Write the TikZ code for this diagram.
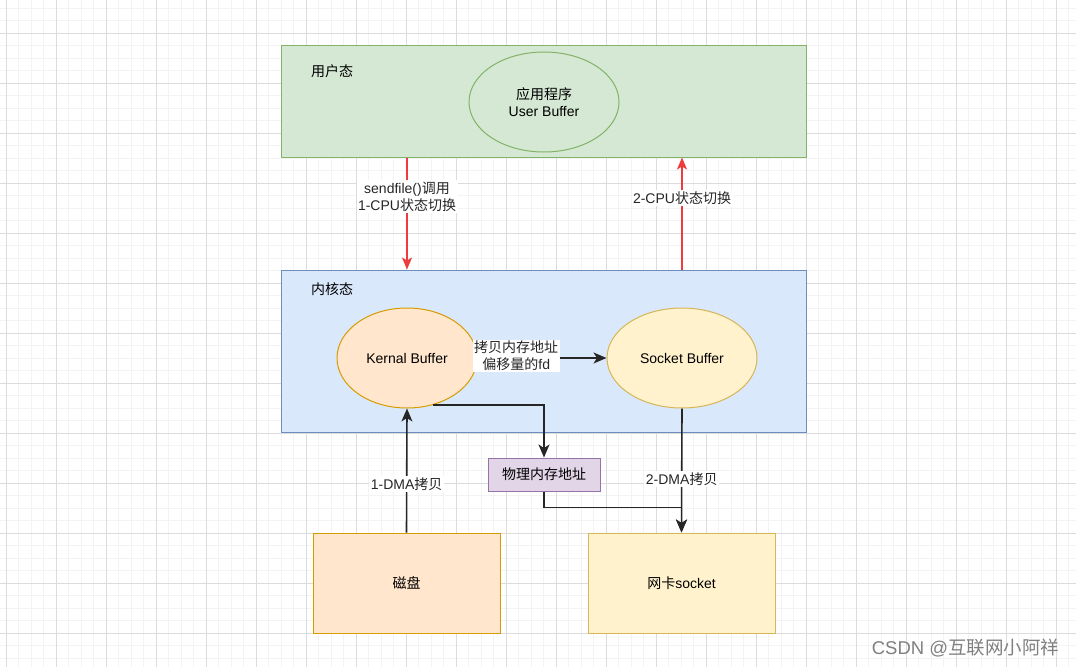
\documentclass[tikz,border=0pt]{standalone}
\usepackage{fontspec}
\setmainfont{Liberation Sans}
\newfontfamily\cjk{Noto Sans CJK SC}
\usetikzlibrary{arrows.meta,shapes.geometric}
\definecolor{gfill}{HTML}{D5E8D4}\definecolor{gline}{HTML}{82B366}
\definecolor{bfill}{HTML}{DAE8FC}\definecolor{bline}{HTML}{6C8EBF}
\definecolor{ofill}{HTML}{FFE6CC}\definecolor{oline}{HTML}{D79B00}
\definecolor{yfill}{HTML}{FFF2CC}\definecolor{yline}{HTML}{D6B656}
\definecolor{pfill}{HTML}{E1D5E7}\definecolor{pline}{HTML}{9673A6}
\definecolor{redline}{HTML}{EE3B3B}
\definecolor{minorg}{HTML}{F3F3F3}\definecolor{majorg}{HTML}{DCDCDC}
\begin{document}
\begin{tikzpicture}[x=1pt,y=-1pt,
  font=\fontsize{14}{17}\selectfont,
  zone/.style={draw=#1line, fill=#1fill, line width=1pt, inner sep=0pt},
  buf/.style={ellipse, draw=#1line, fill=#1fill, line width=1pt, inner sep=0pt, align=center},
  blk/.style={rectangle, draw=#1line, fill=#1fill, line width=1pt, inner sep=0pt, align=center},
  arr/.style={line width=1.6pt, draw=black!85, -{Stealth[length=13pt,width=11pt,inset=3.5pt]}},
  redarr/.style={line width=1.2pt, draw=redline, -{Stealth[length=12pt,width=10pt,inset=3pt]}},
  lbl/.style={fill=white, inner sep=1.5pt, align=center, text=black!85},
  minorgrid/.style={draw=minorg, line width=0.8pt},
  majorgrid/.style={draw=majorg, line width=1pt}]
\useasboundingbox (0,0) rectangle (1076,667);
\fill[white] (0,0) rectangle (1076,667);
\foreach \i in {-1,...,86} \draw[minorgrid] ({6+12.5*\i},0) -- ({6+12.5*\i},667);
\foreach \j in {-3,...,51} \draw[minorgrid] (0,{33+12.5*\j}) -- (1076,{33+12.5*\j});
\foreach \i in {0,...,21} \draw[majorgrid] ({6+50*\i},0) -- ({6+50*\i},667);
\foreach \j in {-1,...,12} \draw[majorgrid] (0,{33+50*\j}) -- (1076,{33+50*\j});

% zones
\node[zone=g, minimum width=525pt, minimum height=112pt] (user) at (543.5,101) {};
\node[zone=b, minimum width=525pt, minimum height=162pt] (kernel) at (543.5,351) {};
\node (userlbl) at (332,71) {\cjk 用户态};
\node (kernellbl) at (332,289) {\cjk 内核态};

% buffers
\node[buf=g, minimum width=150pt, minimum height=100pt] (ub) at (544,102) {{\cjk 应用程序}\\User Buffer};
\node[buf=o, minimum width=140pt, minimum height=100pt] (kb) at (407,358) {Kernal Buffer};
\node[buf=y, minimum width=150pt, minimum height=100pt] (sb) at (682,358) {Socket Buffer};

% lower blocks
\node[blk=p, minimum width=112pt, minimum height=33pt] (phys) at (544,474.5) {\cjk 物理内存地址};
\node[blk=o, minimum width=187pt, minimum height=100pt] (disk) at (406.5,583) {\cjk 磁盘};
\node[blk=y, minimum width=187pt, minimum height=100pt] (net) at (681.5,583) {{\cjk 网卡}socket};

% red CPU switches
\draw[redarr] (user.south -| kb.north) -- node[lbl, pos=0.35] {sendfile(){\cjk 调用}\\1-CPU{\cjk 状态切换}} (kernel.north -| kb.north);
\draw[redarr] (kernel.north -| sb.north) -- node[lbl, pos=0.64] {2-CPU{\cjk 状态切换}} (user.south -| sb.north);

% data paths
\draw[arr] (kb.east) -- node[lbl, pos=0.3, yshift=2pt] {{\cjk 拷贝内存地址}\\{\cjk 偏移量的}fd} (sb.west);
\draw[arr] (disk.north) -- node[lbl, pos=0.39] {1-DMA{\cjk 拷贝}} (kb.south);
\draw[arr] (kb.299) -| (phys.north);
\draw[arr] (phys.south) -- ++(0,16) -| (net.north);
\draw[arr] (sb.south) -- node[lbl, pos=0.57] {2-DMA{\cjk 拷贝}} (net.north);

% watermark
\node[text=black!50, font=\fontsize{18.5}{22}\selectfont] (wm) at (965.5,648) {CSDN @{\cjk 互联网小阿祥}};
\end{tikzpicture}
\end{document}
